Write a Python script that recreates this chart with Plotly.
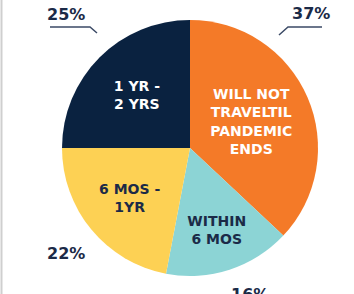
import plotly.graph_objects as go

labels = ["WILL NOT<br>TRAVELTIL<br>PANDEMIC<br>ENDS", "WITHIN<br>6 MOS", "6 MOS -<br>1YR", "1 YR -<br>2 YRS"]
values = [37, 16, 22, 25]
pct_labels = ["37%", "16%", "22%", "25%"]
colors = ["#F47A28", "#8CD4D5", "#FDD154", "#0A2240"]
text_colors = ["#FFFFFF", "#1B2A47", "#1B2A47", "#FFFFFF"]

W, H = 354, 294
cx, cy, r = 190, 148, 128
FONT = "DejaVu Sans"

fig = go.Figure(go.Pie(
    labels=labels,
    values=values,
    text=labels,
    textinfo="text",
    textposition="inside",
    insidetextorientation="horizontal",
    sort=False,
    direction="clockwise",
    rotation=0,
    marker=dict(colors=colors, line=dict(width=0)),
    insidetextfont=dict(family=FONT, size=14, color=text_colors, weight="bold"),
    hoverinfo="skip",
    showlegend=False,
    domain=dict(x=[(cx - r) / W, (cx + r) / W], y=[(H - cy - r) / H, (H - cy + r) / H]),
))

# outside percentage label positions (pixels)
pct_pos = [(311, 13), (250, 294), (66, 253), (66, 14)]
annotations = []
for t, (px, py) in zip(pct_labels, pct_pos):
    annotations.append(dict(
        x=px / W, y=1 - py / H, xref="paper", yref="paper", text=t, showarrow=False,
        font=dict(family=FONT, size=16, color="#1B2A47", weight="bold"),
        xanchor="center", yanchor="middle",
    ))

def P(px, py):
    return px / W, 1 - py / H

shapes = []
# leader lines
for pts in ([(50, 27), (90, 27), (97, 33)], [(322, 27), (288, 27), (279, 35)]):
    path = "M " + " L ".join(f"{P(*p)[0]},{P(*p)[1]}" for p in pts)
    shapes.append(dict(type="path", path=path, xref="paper", yref="paper",
                       line=dict(color="#3B4A66", width=1.5)))
# left gray rule
shapes.append(dict(type="line", x0=1.5 / W, x1=1.5 / W, y0=0, y1=1, xref="paper", yref="paper",
                   line=dict(color="#CFCFCF", width=2)))

fig.update_layout(
    width=W, height=H,
    margin=dict(l=0, r=0, t=0, b=0),
    paper_bgcolor="white", plot_bgcolor="white",
    annotations=annotations, shapes=shapes,
    uniformtext=dict(minsize=14, mode="show"),
)
fig.write_html(
    "out.html",
    config={"displayModeBar": False, "staticPlot": True},
    post_script="document.body.style.margin='0';document.body.style.overflow='hidden';",
)
